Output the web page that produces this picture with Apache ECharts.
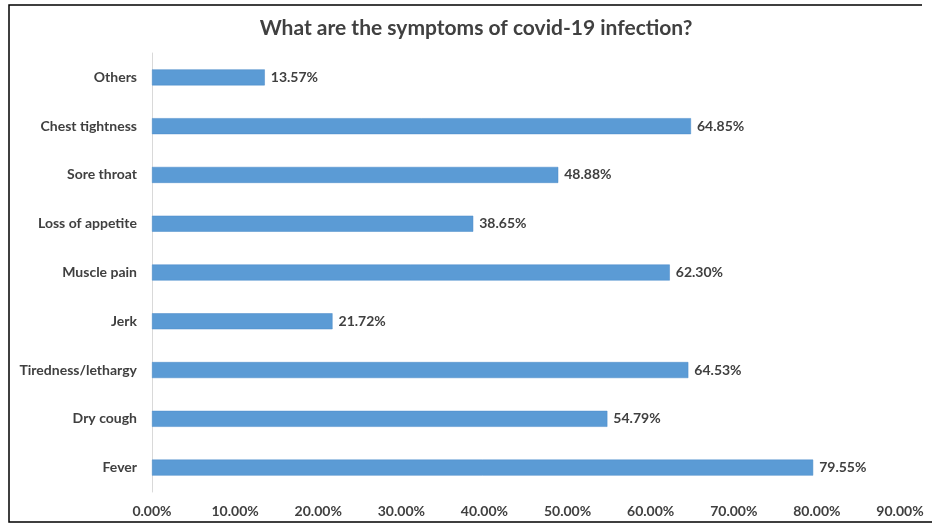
<!DOCTYPE html>
<html>
<head>
<meta charset="utf-8">
<script src="https://cdn.jsdelivr.net/npm/echarts@6/dist/echarts.min.js"></script>
<style>
  html, body { margin: 0; padding: 0; background: #fff; }
  #chart { width: 932px; height: 527px; }
</style>
</head>
<body>
<div id="chart"></div>
<script>
// Symptoms listed bottom-up along the category axis
const symptoms = ['Fever', 'Dry cough', 'Tiredness/lethargy', 'Jerk', 'Muscle pain',
  'Loss of appetite', 'Sore throat', 'Chest tightness', 'Others'];
const shares = [79.55, 54.79, 64.53, 21.72, 62.30, 38.65, 48.88, 64.85, 13.57];
const axisMax = 90;
const axisStep = 10;

const textColor = '#404040';
const fontFamily = 'Lato, "Open Sans", sans-serif';

const chart = echarts.init(document.getElementById('chart'));
chart.setOption({
  backgroundColor: '#ffffff',
  animation: false,
  title: {
    text: 'What are the symptoms of covid-19 infection?',
    left: 471,
    textAlign: 'center',
    top: 13,
    textStyle: { fontSize: 21, fontWeight: 'bold', color: textColor, fontFamily: fontFamily }
  },
  grid: { left: 152, right: 32, top: 53, bottom: 35, containLabel: false },
  xAxis: {
    type: 'value',
    min: 0,
    max: axisMax,
    interval: axisStep,
    axisLine: { show: false },
    axisTick: { show: false },
    splitLine: { show: false },
    axisLabel: {
      formatter: v => v.toFixed(2) + '%',
      color: textColor,
      fontSize: 14,
      fontWeight: 'bold',
      fontFamily: fontFamily,
      margin: 12
    }
  },
  yAxis: {
    type: 'category',
    data: symptoms,
    axisLine: { show: true, lineStyle: { color: '#d9d9d9', width: 1 } },
    axisTick: { show: false },
    axisLabel: {
      color: textColor,
      fontSize: 14,
      fontWeight: 'bold',
      fontFamily: fontFamily,
      margin: 15
    }
  },
  series: [{
    type: 'bar',
    data: shares,
    barWidth: 16,
    itemStyle: { color: '#5b9bd5', borderColor: '#4a8ac8', borderWidth: 0.5 },
    label: {
      show: true,
      position: 'right',
      distance: 6,
      formatter: p => p.value.toFixed(2) + '%',
      color: textColor,
      fontSize: 14,
      fontWeight: 'bold',
      fontFamily: fontFamily
    }
  }],
  graphic: [{
    type: 'polyline',
    shape: { points: [[922, 5], [9, 5], [9, 522], [932, 522]] },
    style: { stroke: '#000', lineWidth: 1.5, fill: null }
  }]
});
</script>
</body>
</html>
